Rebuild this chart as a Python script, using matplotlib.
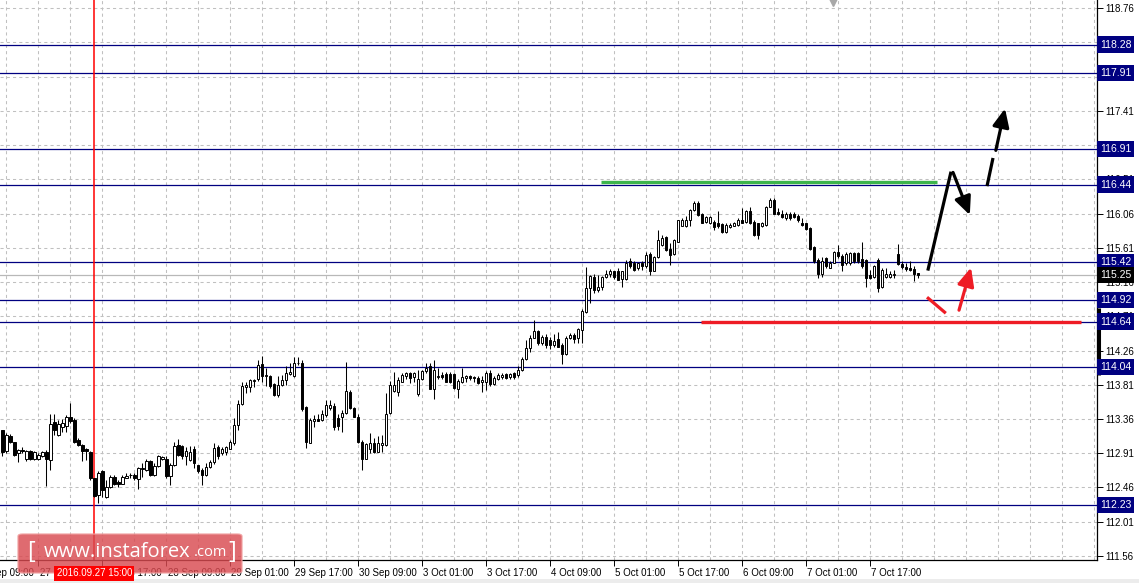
import matplotlib
matplotlib.use("Agg")
import matplotlib.pyplot as plt
from matplotlib.patches import Rectangle, FancyBboxPatch

plt.rcParams['font.family'] = ['Liberation Sans', 'DejaVu Sans']

# H1 candles (bar 0 = first visible candle)
opens = [
    113.21, 112.94, 113.14, 113.06, 112.91, 112.95, 112.84, 112.94, 112.83, 112.84,
    112.88, 112.93, 112.82, 113.32, 113.15, 113.26, 113.27, 113.39, 113.35, 113.08,
    113.02, 112.96, 112.93, 112.58, 112.36, 112.67, 112.33, 112.47, 112.60, 112.53,
    112.51, 112.59, 112.62, 112.62, 112.57, 112.70, 112.69, 112.81, 112.62, 112.74,
    112.83, 112.84, 112.61, 112.76, 113.02, 113.00, 112.87, 112.82, 112.97, 112.75,
    112.69, 112.62, 112.73, 112.79, 112.99, 112.91, 112.93, 112.97, 113.04, 113.28,
    113.56, 113.78, 113.78, 113.86, 113.88, 114.08, 113.92, 113.92, 113.82, 113.67,
    113.81, 113.87, 113.95, 113.93, 114.09, 114.10, 113.52, 113.05, 113.34, 113.36,
    113.35, 113.41, 113.51, 113.53, 113.37, 113.38, 113.44, 113.72, 113.50, 113.38,
    113.06, 112.84, 112.97, 113.04, 112.93, 113.02, 113.02, 113.44, 113.73, 113.72,
    113.85, 113.92, 113.96, 113.91, 113.69, 113.89, 113.99, 114.06, 113.76, 113.91,
    113.94, 113.95, 113.95, 113.95, 113.76, 113.85, 113.90, 113.92, 113.91, 113.90,
    113.85, 113.85, 113.97, 113.82, 113.89, 113.91, 113.95, 113.91, 113.96, 113.94,
    114.01, 114.15, 114.29, 114.43, 114.51, 114.36, 114.44, 114.40, 114.33, 114.41,
    114.33, 114.22, 114.43, 114.47, 114.43, 114.53, 114.77, 115.08, 115.23, 115.06,
    115.10, 115.23, 115.27, 115.30, 115.30, 115.20, 115.20, 115.43, 115.41, 115.35,
    115.41, 115.37, 115.53, 115.31, 115.49, 115.64, 115.75, 115.60, 115.53, 115.69,
    115.90, 115.90, 115.98, 116.10, 116.20, 116.06, 115.95, 115.94, 115.95, 115.93,
    115.92, 115.82, 115.88, 115.90, 115.91, 115.98, 115.95, 116.09, 115.95, 115.93,
    115.90, 115.91, 116.15, 116.24, 116.08, 116.06, 116.00, 116.06, 116.06, 116.03,
    115.94, 115.93, 115.87, 115.62, 115.45, 115.27, 115.47, 115.35, 115.41, 115.56,
    115.50, 115.41, 115.41, 115.54, 115.54, 115.46, 115.45, 115.25, 115.22, 115.45,
    115.09, 115.23, 115.23, 115.25, 115.53, 115.40, 115.36, 115.35, 115.33, 115.28,
]
highs = [
    113.22, 113.17, 113.16, 113.06, 112.97, 112.99, 112.95, 112.95, 112.94, 112.91,
    112.94, 112.95, 113.43, 113.43, 113.35, 113.36, 113.41, 113.57, 113.37, 113.11,
    113.03, 112.98, 112.94, 112.58, 112.67, 112.69, 112.56, 112.62, 112.62, 112.56,
    112.62, 112.65, 112.65, 112.65, 112.73, 112.78, 112.83, 112.82, 112.78, 112.89,
    112.87, 112.87, 112.78, 113.06, 113.10, 113.02, 112.99, 113.00, 113.00, 112.76,
    112.71, 112.78, 112.82, 113.05, 113.02, 112.99, 113.00, 113.08, 113.37, 113.61,
    113.85, 113.85, 113.89, 113.88, 114.13, 114.19, 114.03, 113.94, 113.83, 113.92,
    113.94, 114.05, 114.09, 114.17, 114.17, 114.13, 113.53, 113.37, 113.41, 113.43,
    113.48, 113.61, 113.61, 113.57, 113.42, 113.48, 114.11, 113.74, 113.52, 113.42,
    113.08, 113.05, 113.17, 113.11, 113.13, 113.15, 113.70, 113.86, 113.98, 113.91,
    113.96, 113.98, 113.98, 113.98, 114.00, 114.01, 114.10, 114.10, 114.13, 114.03,
    113.98, 113.98, 113.98, 113.97, 113.89, 114.03, 113.94, 113.94, 113.93, 113.92,
    113.92, 113.99, 114.00, 113.92, 113.96, 113.97, 113.97, 113.97, 113.98, 114.05,
    114.18, 114.40, 114.46, 114.66, 114.53, 114.46, 114.48, 114.44, 114.48, 114.50,
    114.36, 114.45, 114.49, 114.49, 114.55, 114.81, 115.36, 115.25, 115.27, 115.25,
    115.24, 115.32, 115.33, 115.31, 115.35, 115.31, 115.45, 115.47, 115.43, 115.41,
    115.43, 115.55, 115.55, 115.50, 115.85, 115.78, 115.77, 115.67, 115.72, 115.98,
    116.00, 116.03, 116.12, 116.22, 116.23, 116.07, 116.03, 116.03, 115.97, 116.09,
    115.94, 115.93, 115.93, 115.95, 116.00, 116.13, 116.11, 116.15, 115.97, 115.94,
    115.95, 116.16, 116.27, 116.26, 116.13, 116.10, 116.08, 116.08, 116.08, 116.06,
    116.00, 115.94, 115.88, 115.63, 115.47, 115.49, 115.49, 115.43, 115.57, 115.65,
    115.53, 115.56, 115.56, 115.55, 115.56, 115.69, 115.46, 115.32, 115.39, 115.47,
    115.34, 115.34, 115.30, 115.32, 115.66, 115.44, 115.41, 115.44, 115.37, 115.28,
]
lows = [
    112.88, 112.91, 113.04, 112.88, 112.80, 112.91, 112.81, 112.82, 112.82, 112.82,
    112.86, 112.48, 112.69, 113.15, 113.14, 113.19, 113.19, 113.31, 113.05, 113.00,
    112.81, 112.82, 112.56, 112.34, 112.25, 112.34, 112.32, 112.45, 112.49, 112.47,
    112.51, 112.58, 112.58, 112.56, 112.44, 112.60, 112.67, 112.61, 112.61, 112.73,
    112.82, 112.59, 112.49, 112.74, 112.87, 112.84, 112.76, 112.81, 112.71, 112.65,
    112.49, 112.61, 112.71, 112.77, 112.84, 112.89, 112.89, 112.96, 113.02, 113.22,
    113.54, 113.70, 113.71, 113.78, 113.86, 113.85, 113.79, 113.77, 113.66, 113.65,
    113.79, 113.81, 113.94, 113.91, 114.07, 113.47, 112.98, 113.04, 113.26, 113.33,
    113.33, 113.39, 113.48, 113.22, 113.22, 113.19, 113.43, 113.49, 113.38, 113.04,
    112.69, 112.83, 112.91, 112.91, 112.92, 112.93, 113.01, 113.43, 113.71, 113.66,
    113.84, 113.89, 113.83, 113.85, 113.66, 113.87, 113.97, 113.75, 113.62, 113.89,
    113.89, 113.84, 113.83, 113.75, 113.63, 113.83, 113.85, 113.87, 113.85, 113.82,
    113.72, 113.74, 113.80, 113.81, 113.87, 113.89, 113.88, 113.89, 113.88, 113.91,
    113.99, 114.14, 114.24, 114.42, 114.33, 114.33, 114.29, 114.28, 114.31, 114.30,
    114.08, 114.20, 114.41, 114.36, 114.36, 114.36, 114.75, 114.88, 115.01, 115.03,
    115.06, 115.21, 115.23, 115.20, 115.18, 115.10, 115.18, 115.35, 115.31, 115.32,
    115.32, 115.35, 115.25, 115.30, 115.47, 115.63, 115.57, 115.39, 115.51, 115.68,
    115.89, 115.88, 115.89, 116.09, 116.03, 115.93, 115.93, 115.92, 115.85, 115.87,
    115.80, 115.80, 115.87, 115.89, 115.90, 115.93, 115.94, 115.92, 115.76, 115.72,
    115.88, 115.90, 116.14, 116.05, 116.04, 116.00, 115.98, 115.98, 116.00, 115.95,
    115.89, 115.84, 115.58, 115.41, 115.21, 115.23, 115.35, 115.34, 115.41, 115.47,
    115.30, 115.39, 115.39, 115.41, 115.41, 115.34, 115.09, 115.20, 115.21, 115.03,
    115.08, 115.21, 115.21, 115.21, 115.39, 115.33, 115.31, 115.30, 115.17, 115.21,
]
closes = [
    112.93, 113.15, 113.06, 112.89, 112.95, 112.94, 112.94, 112.84, 112.93, 112.89,
    112.92, 112.83, 113.30, 113.22, 113.30, 113.31, 113.39, 113.33, 113.06, 113.02,
    112.94, 112.94, 112.58, 112.35, 112.65, 112.43, 112.47, 112.60, 112.51, 112.51,
    112.60, 112.61, 112.63, 112.59, 112.72, 112.71, 112.81, 112.63, 112.74, 112.87,
    112.86, 112.61, 112.76, 113.00, 112.89, 112.87, 112.94, 112.93, 112.78, 112.67,
    112.62, 112.73, 112.79, 112.98, 112.87, 112.96, 112.99, 113.06, 113.28, 113.56,
    113.79, 113.81, 113.87, 113.87, 114.07, 113.93, 113.94, 113.79, 113.68, 113.81,
    113.87, 113.96, 113.98, 114.10, 114.10, 113.49, 113.06, 113.35, 113.36, 113.34,
    113.42, 113.55, 113.55, 113.26, 113.27, 113.44, 113.73, 113.51, 113.39, 113.06,
    112.84, 113.03, 113.04, 112.92, 113.04, 113.05, 113.43, 113.81, 113.81, 113.87,
    113.94, 113.96, 113.90, 113.96, 113.89, 113.99, 114.03, 113.76, 114.00, 113.92,
    113.91, 113.85, 113.85, 113.77, 113.86, 113.91, 113.92, 113.90, 113.90, 113.83,
    113.87, 113.97, 113.82, 113.90, 113.94, 113.94, 113.90, 113.95, 113.91, 114.01,
    114.15, 114.29, 114.43, 114.52, 114.36, 114.44, 114.33, 114.33, 114.39, 114.31,
    114.22, 114.43, 114.47, 114.41, 114.54, 114.78, 115.08, 115.24, 115.06, 115.10,
    115.22, 115.27, 115.30, 115.23, 115.19, 115.30, 115.41, 115.37, 115.32, 115.41,
    115.37, 115.51, 115.31, 115.49, 115.71, 115.74, 115.58, 115.52, 115.71, 115.98,
    115.98, 115.98, 116.11, 116.20, 116.04, 115.94, 116.02, 116.01, 115.88, 115.89,
    115.82, 115.91, 115.91, 115.94, 115.98, 115.94, 116.09, 115.93, 115.78, 115.78,
    115.93, 116.14, 116.24, 116.06, 116.05, 116.01, 116.06, 116.00, 116.01, 115.98,
    115.91, 115.86, 115.60, 115.43, 115.27, 115.43, 115.37, 115.41, 115.56, 115.50,
    115.39, 115.53, 115.54, 115.44, 115.44, 115.37, 115.21, 115.21, 115.37, 115.08,
    115.32, 115.26, 115.27, 115.27, 115.40, 115.36, 115.33, 115.32, 115.27, 115.25,
]

levels = [118.28, 117.91, 116.91, 116.44, 115.42, 114.92, 114.64, 114.04, 112.23]
current_price = 115.25
price_ticks = [111.56, 112.01, 112.46, 112.91, 113.36, 113.81, 114.26, 114.71,
               115.16, 115.61, 116.06, 116.51, 116.96, 117.41, 117.86, 118.31, 118.76]
# scale labels that sit fully under a level box in the reference
hidden_ticks = [116.96, 118.31]
date_labels = ["26 Sep 09:00", "27 Sep 01:00", "27 Sep 17:00", "28 Sep 09:00",
               "29 Sep 01:00", "29 Sep 17:00", "30 Sep 09:00", "3 Oct 01:00",
               "3 Oct 17:00", "4 Oct 09:00", "5 Oct 01:00", "5 Oct 17:00",
               "6 Oct 09:00", "7 Oct 01:00", "7 Oct 17:00"]
first_label_bar = -7
bars_per_label = 16
marker_bar = 23
marker_text = "2016.09.27 15:00"

# drawn analysis marks (bar, price)
green_level = ([149.7, 233.7], 116.48)
red_level = ([174.7, 269.7], 114.64)
black_up = ([231.4, 237.2], [115.31, 116.61])
black_down_arrow = ((237.7, 116.60), (241.9, 116.04))
black_dash = ([246.2, 247.7], [116.42, 116.79])
black_up_arrow = ((248.4, 116.89), (250.7, 117.44))
red_down = ([231.2, 235.9], [114.96, 114.75])
red_up_arrow = ((239.2, 114.79), (242.2, 115.35))

W, H = 1139, 583
fig = plt.figure(figsize=(W / 100, H / 100), dpi=100)
ax = fig.add_axes([0, 23 / H, 1097 / W, 560 / H])
ax.set_xlim(-0.58, 273.7)
ax.set_ylim(111.507, 118.866)

# grid
grid_kw = dict(color='#c0c0c0', lw=0.75, ls=(0, (3, 3)), zorder=0)
for p in price_ticks:
    ax.axhline(p, **grid_kw)
for b in range(1, 274, 8):
    ax.axvline(b, **grid_kw)

# level lines
for lv in levels:
    ax.axhline(lv, color='#000080', lw=0.9, zorder=1)
ax.axhline(current_price, color='#b8b8b8', lw=0.9, zorder=1)
ax.axvline(marker_bar, color='#ff0000', lw=1.1, zorder=1)

# candles
for i, (o, h, l, c) in enumerate(zip(opens, highs, lows, closes)):
    ax.plot([i, i], [l, h], color='black', lw=0.75, zorder=3, solid_capstyle='butt')
    bottom = min(o, c)
    height = max(abs(c - o), 0.006)
    face = 'white' if c >= o else 'black'
    ax.add_patch(Rectangle((i - 0.3, bottom), 0.6, height, facecolor=face,
                           edgecolor='black', lw=0.7, zorder=4))

# analysis drawings
ax.plot(green_level[0], [green_level[1]] * 2, color='#3cb44b', lw=2.4, zorder=5,
        solid_capstyle='butt')
ax.plot(red_level[0], [red_level[1]] * 2, color='#ee1c25', lw=2.4, zorder=5,
        solid_capstyle='butt')
ax.plot(*black_up, color='black', lw=2.3, zorder=6, solid_capstyle='butt')
ax.plot(*black_dash, color='black', lw=2.3, zorder=6, solid_capstyle='butt')
ax.plot(*red_down, color='#ee1c25', lw=2.3, zorder=6, solid_capstyle='butt')
arrow_style = '-|>,head_length=0.55,head_width=0.25'
for (start, end), col in [(black_down_arrow, 'black'), (black_up_arrow, 'black'),
                          (red_up_arrow, '#ee1c25')]:
    ax.annotate('', xy=end, xytext=start,
                arrowprops=dict(arrowstyle=arrow_style, lw=2.3, color=col,
                                shrinkA=0, shrinkB=0, mutation_scale=20),
                zorder=6)

# axes frame
for s in ['top', 'left']:
    ax.spines[s].set_visible(False)
for s in ['right', 'bottom']:
    ax.spines[s].set_linewidth(0.9)

ax.yaxis.tick_right()
ax.set_yticks(price_ticks)
ax.set_yticklabels(["" if p in hidden_ticks else f"{p:.2f}" for p in price_ticks])
ax.tick_params(axis='y', length=4, width=0.7, pad=2, labelsize=7, colors='black')

label_bars = [first_label_bar + bars_per_label * k for k in range(len(date_labels))]
ax.set_xticks([b for b in label_bars if b >= 0])
ax.set_xticklabels([])
ax.tick_params(axis='x', length=4, width=0.7)
xt = ax.get_xaxis_transform()
for b, lab in zip(label_bars, date_labels):
    ax.text(b + 0.3, -0.0235, lab, transform=xt, ha='left', va='center',
            fontsize=7, color='black', clip_on=False)

# level labels on the price scale
yt = ax.get_yaxis_transform()
box_kw = dict(boxstyle='square,pad=0.3', ec='none')
for lv in levels:
    ax.text(1.0025, lv, f"{lv:.2f}", transform=yt, ha='left', va='center',
            fontsize=7.5, color='white', zorder=10, clip_on=False,
            bbox=dict(fc='#000080', **box_kw))
ax.text(1.0025, current_price, f"{current_price:.2f}", transform=yt, ha='left',
        va='center', fontsize=7.5, color='white', zorder=11, clip_on=False,
        bbox=dict(fc='black', **box_kw))
ax.plot([1.0015, 1.0015], [113.94, 114.82], transform=yt, color='black', lw=2.2,
        clip_on=False, solid_capstyle='butt', zorder=9)
ax.plot(207.6, 118.866, marker='v', ms=8, color='#a8a8a8', clip_on=False, zorder=9)

# bottom strip + watermark
fig.patches.append(Rectangle((0, 0), 1, 4 / H, transform=fig.transFigure,
                             fc='#ececec', ec='none'))
fig.patches.append(FancyBboxPatch((18 / W, 10 / H), 224 / W, 39 / H,
                                  boxstyle='round,pad=0,rounding_size=0.004',
                                  transform=fig.transFigure, fc='#d94a50',
                                  ec='#f0a0a0', lw=1.0, alpha=0.82, zorder=2))
wm_y = (H - 552) / H
fig.text(27 / W, wm_y, "[", color='white', fontsize=17, va='center',
         family='Open Sans', zorder=3)
fig.text(44 / W, wm_y, "www.instaforex", color='white', fontsize=14.5,
         va='center', family='Open Sans', zorder=3)
fig.text(194 / W, wm_y - 1 / H, ".com", color='white', fontsize=10.5, va='center',
         family='Open Sans', zorder=3)
fig.text(228 / W, wm_y, "]", color='white', fontsize=17, va='center',
         family='Open Sans', zorder=3)
fig.text(marker_bar, -0.0235, marker_text, transform=xt, ha='center', va='center',
         fontsize=7, color='white', zorder=5,
         bbox=dict(boxstyle='square,pad=0.25', fc='#ff0000', ec='none'))

fig.savefig('out.png', dpi=100)
